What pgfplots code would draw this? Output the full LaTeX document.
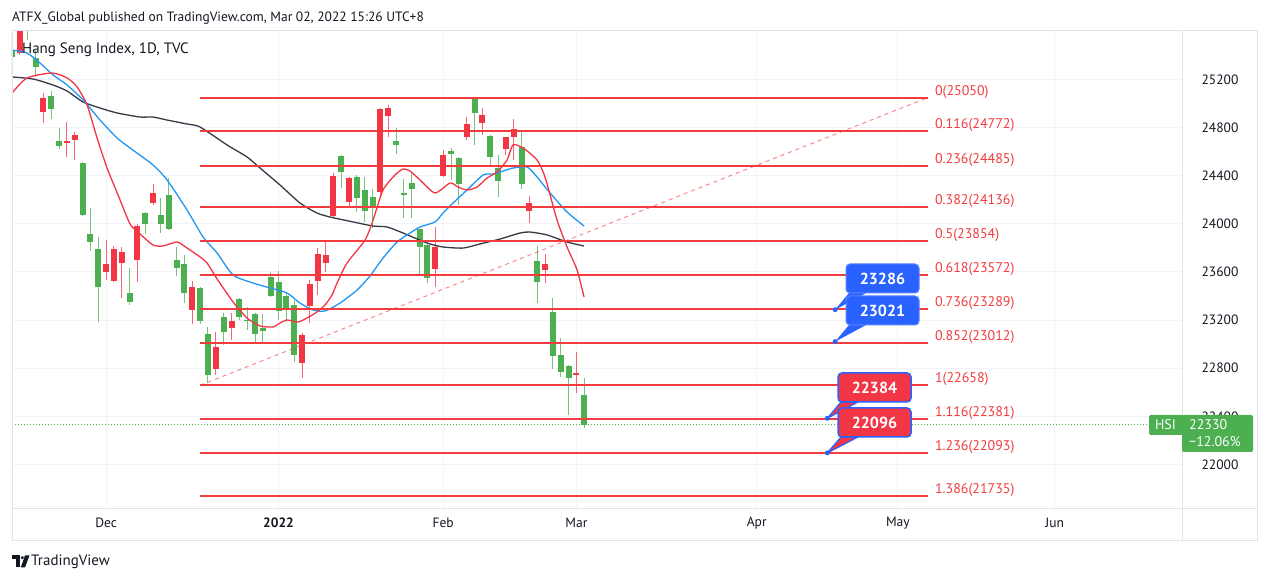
\documentclass[border=0pt]{standalone}
\usepackage{fontspec}
\setmainfont{PT Sans}
\usepackage{pgfplots}
\pgfplotsset{compat=1.18}
\usepackage{pgfplotstable}

\definecolor{tvgreen}{RGB}{76,175,80}
\definecolor{tvred}{RGB}{242,54,69}
\definecolor{fibred}{RGB}{243,60,62}
\definecolor{mablue}{RGB}{33,150,243}
\definecolor{mablack}{RGB}{54,58,69}
\definecolor{mared}{RGB}{242,54,69}
\definecolor{tvblue}{RGB}{41,98,255}
\definecolor{blueedge}{RGB}{90,130,255}
\definecolor{textdark}{RGB}{19,23,34}
\definecolor{gridc}{RGB}{240,243,250}
\definecolor{borderc}{RGB}{224,227,235}

% green candles (close below open)
\pgfplotstableread{
x o h l c
-12 25445 25595 25221 25387
-10 25700 25780 25528 25620
-9 25379 25445 25221 25304
-7 25063 25104 24872 24955
-6 24689 24797 24622 24647
-3 24506 24515 24065 24074
-2 23916 24132 23774 23849
-1 23791 23891 23184 23475
3 23425 23633 23326 23351
5 24090 24099 23916 23999
7 24074 24215 23924 23999
8 24240 24381 23949 23957
9 23700 23808 23567 23633
10 23666 23741 23342 23425
12 23467 23475 23168 23193
13 23085 23143 22677 22744
15 23226 23259 22993 23101
17 23375 23380 23201 23226
18 23203 23309 23118 23193
19 23251 23259 23010 23085
20 23134 23251 23001 23109
21 23558 23600 23392 23400
22 23517 23608 23201 23276
23 23400 23434 23184 23292
24 23326 23367 22852 22910
30 24564 24570 24298 24431
32 24390 24406 24099 24215
33 24282 24390 24016 24107
34 24223 24290 23966 24132
37 24689 24797 24581 24656
38 24257 24373 24049 24240
39 24340 24431 24049 24290
40 23957 23960 23575 23808
41 23824 23841 23508 23550
44 24606 24631 24365 24581
45 24548 24556 24157 24331
47 25045 25050 24656 24922
49 24730 24739 24489 24556
50 24464 24573 24223 24356
53 24639 24764 24290 24331
55 23691 23816 23342 23517
57 23267 23384 22794 22902
58 22910 23051 22727 22769
59 22818 22823 22411 22719
61 22577 22719 22303 22330
}\greencandles

% red candles (close above open)
\pgfplotstableread{
x o h l c
-11 25420 25750 25400 25680
-8 24932 25088 24838 25049
-5 24672 24847 24556 24689
-4 24697 24764 24531 24739
0 23600 23866 23533 23666
1 23525 23816 23517 23791
2 23675 23808 23384 23766
4 23700 23999 23517 23982
6 24173 24331 24157 24257
11 23284 23525 23168 23475
14 22794 23101 22744 22976
16 23134 23259 23035 23193
25 22843 23093 22719 23076
26 23317 23533 23176 23500
27 23525 23799 23409 23750
28 23675 23849 23600 23741
29 24065 24420 24050 24400
31 24182 24390 24140 24381
35 24265 24960 24240 24955
36 24897 24988 24722 24963
42 23625 23974 23475 23808
43 24398 24614 24390 24572
46 24722 24888 24697 24830
48 24839 24963 24739 24905
51 24622 24722 24572 24722
52 24722 24872 24531 24789
54 24107 24232 24007 24173
56 23617 23750 23508 23666
60 22744 22935 22594 22760
}\redcandles

\pgfplotsset{
  fibline/.style={draw=fibred, line width=2pt, forget plot},
  candle/.style={draw=none, mark=none, forget plot},
}
\tikzset{
  fiblab/.style={pos=1, anchor=base west, xshift=6pt, yshift=2.5pt, inner sep=0pt,
    text=fibred, font=\fontsize{14pt}{16pt}\selectfont},
}

\begin{document}
\begin{tikzpicture}
\fill[white] (0pt,0pt) rectangle (1269pt,583pt);
\begin{axis}[
  at={(12pt,74pt)}, anchor=south west,
  scale only axis, width=1170pt, height=478pt,
  xmin=-12, xmax=137.245, ymin=21629.7, ymax=25603.3,
  axis line style={draw=none},
  scaled y ticks=false, scaled x ticks=false,
  xtick={0,22,43,60,83,101,121},
  xticklabels={Dec,\textbf{2022},Feb,Mar,Apr,May,Jun},
  ytick={22000,22400,22800,23200,23600,24000,24400,24800,25200},
  yticklabels={22000,22400,22800,23200,23600,24000,24400,24800,25200},
  yticklabel pos=right,
  major tick length=0pt,
  xmajorgrids, ymajorgrids,
  grid style={draw=gridc, line width=1pt},
  tick label style={font=\fontsize{13.5pt}{16pt}\selectfont, text=textdark},
  xticklabel style={anchor=center, yshift=-14pt},
  yticklabel style={anchor=center, xshift=38pt},
]
% candles: wicks
\addplot[candle, error bars/.cd, y dir=plus, y explicit, error mark=none,
  error bar style={draw=tvgreen, draw opacity=0.75, line width=1pt}]
  table[x=x, y=l, y error plus expr=\thisrow{h}-\thisrow{l}] {\greencandles};
\addplot[candle, error bars/.cd, y dir=plus, y explicit, error mark=none,
  error bar style={draw=tvred, draw opacity=0.75, line width=1pt}]
  table[x=x, y=l, y error plus expr=\thisrow{h}-\thisrow{l}] {\redcandles};
% candles: bodies
\addplot[candle, error bars/.cd, y dir=plus, y explicit, error mark=none,
  error bar style={draw=tvgreen, line width=6pt}]
  table[x=x, y=c, y error plus expr=\thisrow{o}-\thisrow{c}] {\greencandles};
\addplot[candle, error bars/.cd, y dir=plus, y explicit, error mark=none,
  error bar style={draw=tvred, line width=6pt}]
  table[x=x, y=o, y error plus expr=\thisrow{c}-\thisrow{o}] {\redcandles};

% moving averages
\addplot[mablack, line width=1.3pt, smooth, tension=0.4, forget plot] coordinates {
(-11.99,25221) (-9.31,25204) (-6.76,25154) (-4.97,25104) (-2.93,25013) (-0.77,24963) (1.4,24922) (4.34,24888) (6.0,24888) (7.78,24863) (10.33,24830) (11.99,24805) (15.43,24656) (17.98,24556) (19.64,24464) (22.19,24323) (24.74,24173) (26.91,24090) (28.57,24057) (31.51,24016) (34.06,23982) (35.84,23974) (37.88,23924) (40.94,23841) (42.98,23808) (45.54,23799) (47.7,23833) (50.26,23874) (52.81,23924) (54.08,23932) (56.25,23908) (58.8,23849) (60.97,23816)};
\addplot[mablue, line width=1.3pt, smooth, tension=0.4, forget plot] coordinates {
(-11.99,25445) (-10.08,25420) (-8.42,25337) (-6.76,25238) (-4.97,25154) (-2.93,25030) (-0.77,24863) (1.4,24714) (3.06,24631) (6.0,24489) (7.78,24365) (10.33,24115) (12.37,23891) (14.16,23758) (16.2,23575) (18.75,23508) (20.92,23467) (23.09,23425) (24.74,23342) (26.4,23284) (27.93,23276) (29.85,23342) (32.02,23450) (33.67,23567) (35.33,23716) (37.12,23849) (38.78,23924) (40.05,23974) (41.96,24016) (42.98,24090) (44.26,24173) (46.05,24282) (48.09,24406) (49.36,24415) (50.64,24439) (51.91,24464) (53.7,24473) (54.97,24390) (56.63,24257) (58.8,24099) (60.97,23982)};
\addplot[mared, line width=1.3pt, smooth, tension=0.4, forget plot] coordinates {
(-11.99,25088) (-10.08,25213) (-6.89,25254) (-4.97,25213) (-3.70,25138) (-2.42,24988) (-1.15,24714) (0.13,24464) (1.53,24240) (3.06,23999) (4.34,23916) (6.0,23824) (7.27,23816) (9.06,23849) (10.33,23799) (11.99,23725) (12.88,23675) (14.16,23542) (16.2,23351) (17.98,23218) (19.64,23151) (21.3,23143) (22.19,23176) (23.09,23201) (24.49,23184) (25.64,23218) (26.91,23267) (27.93,23326) (28.83,23409) (29.46,23508) (30.74,23675) (33.04,23866) (34.06,24032) (35.33,24282) (36.86,24406) (37.88,24456) (38.78,24439) (40.05,24365) (41.96,24257) (43.88,24340) (44.9,24306) (46.05,24282) (47.32,24306) (48.6,24381) (49.87,24431) (51.15,24531) (51.91,24656) (53.19,24631) (54.97,24531) (55.99,24390) (57.53,24032) (58.8,23808) (60.08,23617) (60.97,23392)};

% last price line
\addplot[tvgreen, line width=0.8pt, dash pattern=on 1pt off 2pt, forget plot] coordinates {(-12,22330) (133,22330)};

% fibonacci levels
\addplot[fibline] coordinates {(12,25050) (104.85,25050)} node[fiblab] {0(25050)};
\addplot[fibline] coordinates {(12,24772) (104.85,24772)} node[fiblab] {0.116(24772)};
\addplot[fibline] coordinates {(12,24485) (104.85,24485)} node[fiblab] {0.236(24485)};
\addplot[fibline] coordinates {(12,24136) (104.85,24136)} node[fiblab] {0.382(24136)};
\addplot[fibline] coordinates {(12,23854) (104.85,23854)} node[fiblab] {0.5(23854)};
\addplot[fibline] coordinates {(12,23572) (104.85,23572)} node[fiblab] {0.618(23572)};
\addplot[fibline] coordinates {(12,23289) (104.85,23289)} node[fiblab] {0.736(23289)};
\addplot[fibline] coordinates {(12,23012) (104.85,23012)} node[fiblab] {0.852(23012)};
\addplot[fibline] coordinates {(12,22658) (104.85,22658)} node[fiblab] {1(22658)};
\addplot[fibline] coordinates {(12,22381) (104.85,22381)} node[fiblab] {1.116(22381)};
\addplot[fibline] coordinates {(12,22093) (104.85,22093)} node[fiblab] {1.236(22093)};
\addplot[fibline] coordinates {(12,21735) (104.85,21735)} node[fiblab] {1.386(21735)};
% trend line
\addplot[fibred, draw opacity=0.6, line width=1pt, dash pattern=on 4pt off 4pt, forget plot]
  coordinates {(12,22658) (104.85,25050)};
% callout anchor points
\addplot[only marks, mark=*, mark size=2.2pt, color=tvblue, forget plot]
  coordinates {(93,23286) (93,23021) (92,22384) (92,22096)};
\coordinate (p1) at (axis cs:93,23286);
\coordinate (p2) at (axis cs:93,23021);
\coordinate (p3) at (axis cs:92,22384);
\coordinate (p4) at (axis cs:92,22096);
\end{axis}

\begin{scope}[x=1pt, y=1pt]
% frame
\draw[borderc, line width=1pt] (12,42) rectangle (1257,552);
\draw[borderc, line width=1pt] (1182,42) -- (1182,552);
\draw[borderc, line width=1pt] (12,74) -- (1257,74);

% callouts
\fill[tvblue] (849,290) -- (866,290) -- (p1) -- cycle;
\draw[fill=tvblue, draw=blueedge, line width=1pt, rounded corners=4pt] (846,290) rectangle (919,319);
\node[text=white, font=\bfseries\fontsize{16pt}{18pt}\selectfont] at (882.5,304.5) {23286};
\fill[tvblue] (849,258) -- (866,258) -- (p2) -- cycle;
\draw[fill=tvblue, draw=blueedge, line width=1pt, rounded corners=4pt] (846,258) rectangle (919,287);
\node[text=white, font=\bfseries\fontsize{16pt}{18pt}\selectfont] at (882.5,272.5) {23021};

\filldraw[fill=tvred, draw=tvblue, line width=1.2pt, line join=round] (841,181) -- (858,181) -- (p3) -- cycle;
\draw[fill=tvred, draw=tvblue, line width=1.5pt, rounded corners=4pt] (838,181) rectangle (911,210);
\node[text=white, font=\bfseries\fontsize{16pt}{18pt}\selectfont] at (874.5,195.5) {22384};
\filldraw[fill=tvred, draw=tvblue, line width=1.2pt, line join=round] (841,146) -- (858,146) -- (p4) -- cycle;
\draw[fill=tvred, draw=tvblue, line width=1.5pt, rounded corners=4pt] (838,146) rectangle (911,175);
\node[text=white, font=\bfseries\fontsize{16pt}{18pt}\selectfont] at (874.5,160.5) {22096};

% price tag
\fill[tvgreen, rounded corners=2pt] (1149,148) rectangle (1184,168);
\node[text=white, font=\fontsize{14pt}{16pt}\selectfont] at (1165.5,158) {HSI};
\fill[tvgreen, rounded corners=2pt] (1182,131) rectangle (1253,168);
\node[text=white, anchor=west, inner sep=0pt, font=\fontsize{14pt}{16pt}\selectfont] at (1189,158.5) {22330};
\node[text=white, anchor=west, inner sep=0pt, font=\fontsize{14pt}{16pt}\selectfont] at (1189,141.5) {−12.06\%};

% texts
\node[anchor=west, inner sep=0pt, text=textdark, font=\fontsize{13.5pt}{16pt}\selectfont] at (12,565) {ATFX\_Global published on TradingView.com, Mar 02, 2022 15:26 UTC+8};
\node[anchor=west, inner sep=0pt, text=textdark, font=\fontsize{15pt}{17pt}\selectfont] at (22,533) {Hang Seng Index, 1D, TVC};

% TradingView logo
\fill[textdark] (12,24) rectangle (20,27.5);
\fill[textdark] (16,15.5) rectangle (20,27.5);
\fill[textdark] (22.3,25.3) circle (1.7);
\fill[textdark] (25,27.5) -- (29.5,27.5) -- (25,15.5) -- (20.8,15.5) -- cycle;
\node[anchor=west, inner sep=0pt, text=textdark, font=\fontsize{15pt}{17pt}\selectfont] at (31,21.5) {TradingView};
\end{scope}

\pgfresetboundingbox
\path (0pt,0pt) rectangle (1269pt,583pt);
\end{tikzpicture}
\end{document}
